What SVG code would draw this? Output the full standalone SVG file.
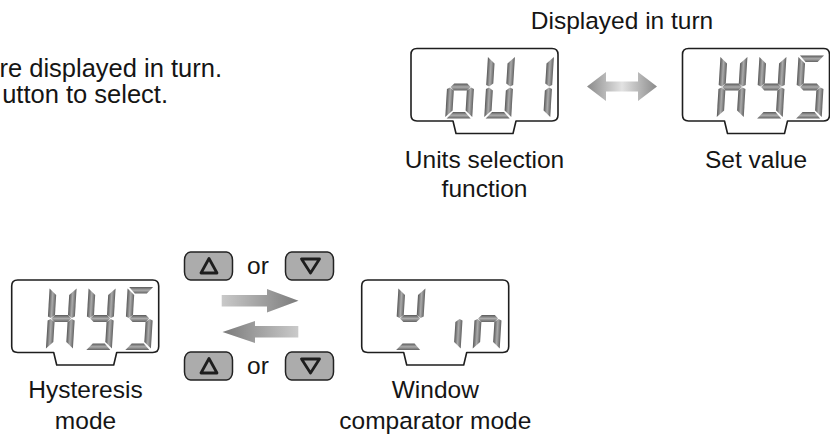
<svg xmlns="http://www.w3.org/2000/svg" xmlns:xlink="http://www.w3.org/1999/xlink" width="830" height="434" viewBox="0 0 830 434">
<style>
  text { font-family: "Liberation Sans", Arial, sans-serif; font-size: 24.5px; fill: #151515; }
  .intro { font-size: 25.5px; }
  .lcd { fill: #ffffff; stroke: #1e1e1e; stroke-width: 1.6; stroke-linejoin: round; }
  .btn { fill: #acacac; stroke: #222; stroke-width: 1.5; }
  .tri { fill: none; stroke: #1e1e1e; stroke-width: 2.8; stroke-linejoin: round; }
  .v { fill: url(#gv); }
  .h { fill: url(#gh); }
</style>
<defs>
  <linearGradient id="gv" x1="0" y1="0" x2="1" y2="0">
    <stop offset="0" stop-color="#585858"/>
    <stop offset="0.5" stop-color="#ababab"/>
    <stop offset="1" stop-color="#626262"/>
  </linearGradient>
  <linearGradient id="gh" x1="0" y1="0" x2="0" y2="1">
    <stop offset="0" stop-color="#595959"/>
    <stop offset="0.5" stop-color="#ababab"/>
    <stop offset="1" stop-color="#636363"/>
  </linearGradient>
  <linearGradient id="gdbl" gradientUnits="userSpaceOnUse" x1="587" y1="0" x2="657" y2="0">
    <stop offset="0" stop-color="#8a8a8a"/>
    <stop offset="0.5" stop-color="#e2e2e2"/>
    <stop offset="1" stop-color="#8a8a8a"/>
  </linearGradient>
  <linearGradient id="gr" gradientUnits="userSpaceOnUse" x1="222" y1="0" x2="298" y2="0">
    <stop offset="0" stop-color="#c9c9c9"/>
    <stop offset="1" stop-color="#7c7c7c"/>
  </linearGradient>
  <linearGradient id="gl" gradientUnits="userSpaceOnUse" x1="222" y1="0" x2="298" y2="0">
    <stop offset="0" stop-color="#7a7a7a"/>
    <stop offset="1" stop-color="#cacaca"/>
  </linearGradient>
  <filter id="soft" x="-5%" y="-20%" width="110%" height="140%">
    <feGaussianBlur stdDeviation="0.7"/>
  </filter>
  <path id="lcdbox" class="lcd" d="M6 0 H141 Q147 0 147 6 V66.5 Q147 72.5 141 72.5 H105 L102 85 H45 L42 72.5 H6 Q0 72.5 0 66.5 V6 Q0 0 6 0 Z"/>
  <polygon id="sa" class="h" points="1.5,0 25.5,0 19.5,6.5 7.5,6.5"/>
  <polygon id="sb" class="v" points="27,1.5 27,29.5 24,31 20,28 20,8"/>
  <polygon id="sc" class="v" points="24,32 27,33.5 27,61.5 20,55 20,35"/>
  <polygon id="sd" class="h" points="7.5,56.5 19.5,56.5 25.5,63 1.5,63"/>
  <polygon id="se" class="v" points="3,32 7,35 7,55 0,61.5 0,33.5"/>
  <polygon id="sf" class="v" points="0,1.5 7,8 7,28 3,31 0,29.5"/>
  <polygon id="sg" class="h" points="3.5,31.5 7,28 20,28 23.5,31.5 20,35 7,35"/>
  <g id="dH"><use href="#sb"/><use href="#sc"/><use href="#se"/><use href="#sf"/><use href="#sg"/></g>
  <g id="dY"><use href="#sb"/><use href="#sc"/><use href="#sd"/><use href="#sf"/><use href="#sg"/></g>
  <g id="dS"><use href="#sa"/><use href="#sc"/><use href="#sd"/><use href="#sf"/><use href="#sg"/></g>
  <rect id="btn" class="btn" width="48" height="28" rx="6" ry="8"/>
  <path id="triUp" class="tri" d="M24.5 6.5 L32.5 21 L16.5 21 Z"/>
  <path id="triDn" class="tri" d="M16 7 L34 7 L25 21 Z"/>
</defs>

<rect width="830" height="434" fill="#ffffff"/>

<g id="intro-text">
  <text class="intro" x="222" y="77" text-anchor="end">re displayed in turn.</text>
  <text class="intro" x="168" y="103" text-anchor="end">utton to select.</text>
</g>

<g id="caption-turn">
  <text x="622" y="29" text-anchor="middle">Displayed in turn</text>
</g>

<g id="node-units">
  <use href="#lcdbox" x="411" y="48.5"/>
  <g transform="translate(449,55.5) skewX(-3.5)"><use href="#sc"/><use href="#sd"/><use href="#se"/><use href="#sg"/></g>
  <g transform="translate(488,55.5) skewX(-3.5)"><use href="#sb"/><use href="#sc"/><use href="#sd"/><use href="#se"/><use href="#sf"/></g>
  <g transform="translate(527,55.5) skewX(-3.5)"><use href="#sb"/><use href="#sc"/></g>
  <text x="484.5" y="168" text-anchor="middle">Units selection</text>
  <text x="484.5" y="197" text-anchor="middle">function</text>
</g>

<g id="node-setvalue">
  <use href="#lcdbox" x="682.5" y="48.5"/>
  <g transform="translate(720.5,55.5) skewX(-3.5)"><use href="#dH"/></g>
  <g transform="translate(759.5,55.5) skewX(-3.5)"><use href="#dY"/></g>
  <g transform="translate(798.5,55.5) skewX(-3.5)"><use href="#dS"/></g>
  <text x="756" y="168" text-anchor="middle">Set value</text>
</g>

<g id="node-hysteresis">
  <use href="#lcdbox" x="11.7" y="280"/>
  <g transform="translate(49.7,287) skewX(-3.5)"><use href="#dH"/></g>
  <g transform="translate(88.7,287) skewX(-3.5)"><use href="#dY"/></g>
  <g transform="translate(127.7,287) skewX(-3.5)"><use href="#dS"/></g>
  <text x="85.5" y="398" text-anchor="middle">Hysteresis</text>
  <text x="85.5" y="429" text-anchor="middle">mode</text>
</g>

<g id="node-window">
  <use href="#lcdbox" x="361.7" y="280"/>
  <g transform="translate(398.5,287) skewX(-3.5)"><use href="#sb"/><use href="#sd"/><use href="#sf"/><use href="#sg"/></g>
  <g transform="translate(437.5,287) skewX(-3.5)"><use href="#sc"/></g>
  <g transform="translate(476.5,287) skewX(-3.5)"><use href="#sc"/><use href="#se"/><use href="#sg"/></g>
  <text x="435.3" y="398" text-anchor="middle">Window</text>
  <text x="435.3" y="428.5" text-anchor="middle">comparator mode</text>
</g>

<g id="buttons-top">
  <use href="#btn" x="184.5" y="252"/>
  <use href="#triUp" x="184.5" y="252"/>
  <text x="258" y="273.5" text-anchor="middle">or</text>
  <use href="#btn" x="285.5" y="252"/>
  <use href="#triDn" x="285.5" y="252"/>
</g>

<g id="buttons-bottom">
  <use href="#btn" x="184.5" y="352"/>
  <use href="#triUp" x="184.5" y="352"/>
  <text x="258" y="373.5" text-anchor="middle">or</text>
  <use href="#btn" x="285.5" y="352"/>
  <use href="#triDn" x="285.5" y="352"/>
</g>

<g id="connectors" filter="url(#soft)">
  <path id="arrow-turn" fill="url(#gdbl)" d="M587 86.5 L606 72 L606 81.5 L638 81.5 L638 72 L657 86.5 L638 101 L638 91.5 L606 91.5 L606 101 Z"/>
  <path id="arrow-to-window" fill="url(#gr)" d="M221.7 295 H267 V289 L298.5 300.7 L267 312.5 V306.5 H221.7 Z"/>
  <path id="arrow-to-hysteresis" fill="url(#gl)" d="M298.3 326 H255 V321 L222.5 332 L255 343 V337.5 H298.3 Z"/>
</g>
</svg>
